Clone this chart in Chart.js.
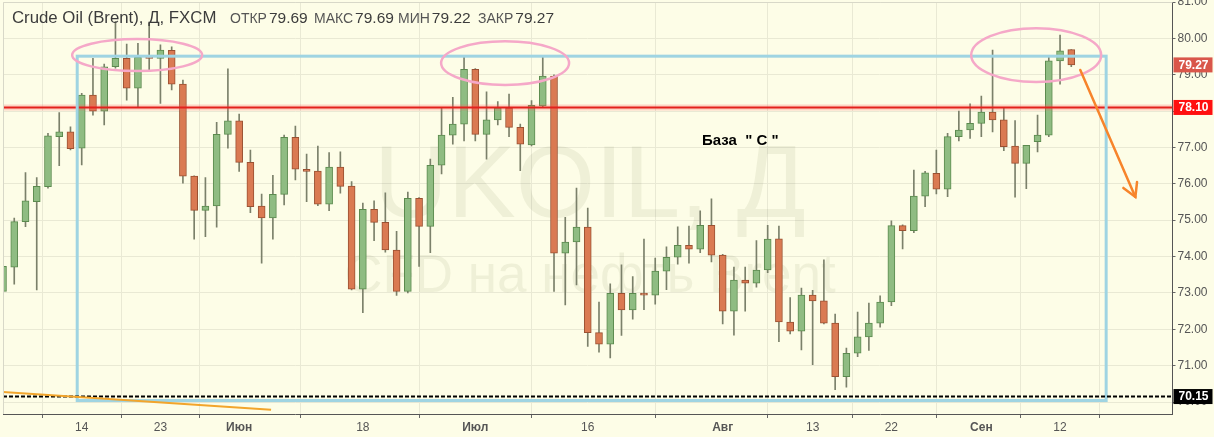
<!DOCTYPE html>
<html>
<head>
<meta charset="utf-8">
<script src="https://cdn.jsdelivr.net/npm/chart.js@4.4.0/dist/chart.umd.min.js"></script>
<style>
  html, body { margin: 0; padding: 0; background: #fdfde7; }
  #wrap { width: 1214px; height: 437px; }
</style>
</head>
<body>
<div id="wrap"><canvas id="chart" width="1214" height="437"></canvas></div>
<script>
// trading days (daily candles), last 9 are empty future slots
const dates = [
  '03.05','04.05','07.05','08.05','09.05','10.05','11.05','14.05','15.05','16.05','17.05','18.05','21.05','22.05','23.05','24.05','25.05','28.05','29.05','30.05','31.05',
  '01.06','04.06','05.06','06.06','07.06','08.06','11.06','12.06','13.06','14.06','15.06','18.06','19.06','20.06','21.06','22.06','25.06','26.06','27.06','28.06','29.06',
  '02.07','03.07','04.07','05.07','06.07','09.07','10.07','11.07','12.07','13.07','16.07','17.07','18.07','19.07','20.07','23.07','24.07','25.07','26.07','27.07','30.07','31.07',
  '01.08','02.08','03.08','06.08','07.08','08.08','09.08','10.08','13.08','14.08','15.08','16.08','17.08','20.08','21.08','22.08','23.08','24.08','27.08','28.08','29.08','30.08','31.08',
  '03.09','04.09','05.09','06.09','07.09','10.09','11.09','12.09','13.09',
  '14.09','17.09','18.09','19.09','20.09','21.09','24.09','25.09','26.09'
];

const opens = [
  73.04, 73.71, 74.96, 75.51, 75.92, 77.30, 77.43, 76.98, 78.44, 78.00, 79.22, 79.45, 78.63, 79.48, 79.45, 79.67, 78.74, 76.21, 75.27, 75.39, 77.36,
  77.73, 76.59, 75.39, 75.06, 75.71, 77.28, 76.40, 76.35, 75.44, 76.46, 75.94, 73.10, 75.30, 74.94, 74.18, 73.04, 75.60, 74.83, 76.51, 77.34, 77.64,
  79.15, 77.36, 77.76, 78.09, 77.55, 77.07, 78.14, 78.96, 74.09, 74.40, 74.81, 71.91, 71.59, 72.99, 72.53, 72.99, 72.94, 73.60, 73.98, 74.31, 74.20, 74.86,
  74.04, 72.50, 73.35, 73.27, 73.63, 74.49, 72.20, 71.95, 72.94, 72.78, 72.17, 70.70, 71.34, 71.79, 72.17, 72.75, 74.85, 74.71, 75.66, 76.29, 75.85, 77.30, 77.48,
  77.66, 77.97, 77.76, 77.04, 76.56, 77.16, 77.34, 79.38, 79.69
];
const highs = [
  73.80, 75.06, 76.31, 76.17, 77.39, 77.96, 77.57, 78.49, 79.45, 79.29, 80.46, 79.84, 79.86, 80.41, 79.82, 79.77, 78.85, 76.22, 76.17, 77.69, 79.16,
  77.92, 76.93, 75.72, 76.23, 77.34, 77.59, 76.82, 77.04, 76.86, 76.88, 76.06, 75.47, 75.53, 75.75, 74.69, 75.77, 75.62, 76.68, 78.09, 78.38, 79.48,
  79.17, 78.53, 78.26, 78.47, 77.64, 78.29, 79.50, 79.00, 75.08, 75.88, 75.33, 72.75, 73.25, 73.77, 73.45, 74.48, 73.96, 74.27, 74.82, 74.84, 75.26, 75.59,
  74.06, 73.71, 73.71, 74.44, 74.86, 74.84, 72.87, 73.13, 73.07, 73.91, 72.42, 71.48, 72.47, 72.72, 72.92, 74.98, 74.87, 76.38, 76.34, 76.93, 77.39, 78.00, 78.20,
  78.41, 79.68, 78.09, 77.74, 77.06, 77.89, 79.48, 80.09, 79.69
];
const lows = [
  72.95, 73.24, 74.82, 73.08, 75.88, 76.50, 76.93, 76.52, 77.89, 77.62, 79.18, 78.30, 78.12, 79.13, 78.21, 78.58, 76.02, 74.48, 74.55, 74.81, 76.98,
  76.34, 75.21, 73.82, 74.48, 75.42, 76.11, 75.51, 75.40, 75.26, 75.74, 73.08, 72.46, 74.44, 74.12, 72.93, 73.00, 73.73, 74.11, 76.27, 77.09, 77.18,
  77.18, 76.68, 77.62, 77.30, 76.36, 77.04, 78.10, 73.04, 72.67, 73.22, 71.53, 71.37, 71.21, 71.83, 72.28, 72.54, 72.69, 73.09, 73.79, 73.82, 74.11, 73.85,
  72.15, 71.84, 72.50, 73.16, 73.56, 71.66, 71.87, 71.43, 71.03, 72.15, 70.34, 70.41, 71.25, 71.42, 72.06, 72.65, 74.21, 74.66, 75.37, 75.72, 75.65, 77.18, 77.25,
  77.30, 77.43, 76.91, 75.63, 75.87, 76.88, 77.30, 78.74, 79.22
];
const closes = [
  73.73, 74.96, 75.53, 75.93, 77.32, 77.43, 76.97, 78.44, 78.00, 79.22, 79.45, 78.63, 79.48, 79.45, 79.68, 78.74, 76.21, 75.27, 75.39, 77.36, 77.73,
  76.59, 75.37, 75.06, 75.71, 77.28, 76.40, 76.34, 75.44, 76.46, 75.93, 73.10, 75.30, 74.94, 74.18, 73.04, 75.60, 74.83, 76.51, 77.34, 77.64, 79.15,
  77.36, 77.76, 78.09, 77.55, 77.09, 78.16, 78.96, 74.09, 74.40, 74.81, 71.91, 71.59, 72.99, 72.53, 72.99, 72.94, 73.60, 73.98, 74.31, 74.20, 74.86, 74.04,
  72.50, 73.35, 73.27, 73.63, 74.48, 72.20, 71.95, 72.94, 72.78, 72.17, 70.70, 71.34, 71.79, 72.17, 72.75, 74.85, 74.71, 75.66, 76.30, 75.85, 77.30, 77.48, 77.66,
  77.97, 77.76, 77.02, 76.56, 77.06, 77.34, 79.38, 79.66, 79.27
];

// x-axis labels
const tickDates = ['14.05', '23.05', '01.06', '18.06', '02.07', '16.07', '01.08', '13.08', '22.08', '03.09', '12.09'];
const tickTexts = ['14', '23', 'Июн', '18', 'Июл', '16', 'Авг', '13', '22', 'Сен', '12'];

// drawn levels
const resistance = 78.10;
const support = 70.15;

// hand drawings, in axis units (category index, price)
const baseBox = { x0: 6.6, x1: 98.1, y0: 79.51, y1: 70.04 };
const ellipses = [
  { x: 11.93, y: 79.54, rx: 5.78, ry: 0.44 },
  { x: 44.65, y: 79.32, rx: 5.69, ry: 0.60 },
  { x: 91.88, y: 79.54, rx: 5.78, ry: 0.74 }
];
const arrow = { x0: 95.8, y0: 79.13, x1: 100.7, y1: 75.64 };
const trendLine = { x0: -0.4, y0: 70.28, x1: 23.84, y1: 69.79 };

const FONT = '"Liberation Sans", Arial, sans-serif';
const UP = '#8fbc82', UP_LINE = '#5b8a4e';
const DOWN = '#da7a52', DOWN_LINE = '#9a5132';
const WICK = '#7b806a';

const bodies = opens.map((o, i) => [o, closes[i]]);
const wicks = lows.map((l, i) => [l, highs[i]]);
const isUp = i => closes[i] >= opens[i];

const overlay = {
  id: 'overlay',
  beforeDatasetsDraw(chart) {
    const ctx = chart.ctx, a = chart.chartArea;
    ctx.save();
    ctx.beginPath();
    ctx.rect(a.left, a.top, a.right - a.left, a.bottom - a.top);
    ctx.clip();
    ctx.fillStyle = 'rgba(70,80,30,0.075)';
    ctx.textAlign = 'center';
    ctx.textBaseline = 'alphabetic';
    ctx.font = '102px ' + FONT;
    ctx.fillText('UKOIL, Д', 590, 217);
    ctx.font = '53px ' + FONT;
    ctx.fillText('CFD на нефть Brent', 590, 292);
    ctx.restore();
  },
  afterDatasetsDraw(chart) {
    const ctx = chart.ctx, a = chart.chartArea;
    const X = v => chart.scales.x.getPixelForValue(v);
    const Y = v => chart.scales.y.getPixelForValue(v);
    ctx.save();
    ctx.beginPath();
    ctx.rect(a.left, a.top, a.right - a.left, a.bottom - a.top);
    ctx.clip();

    // resistance line
    let y = Y(resistance);
    ctx.strokeStyle = 'rgba(255,90,90,0.25)';
    ctx.lineWidth = 6;
    ctx.beginPath(); ctx.moveTo(a.left, y); ctx.lineTo(a.right, y); ctx.stroke();
    ctx.strokeStyle = '#e3211c';
    ctx.lineWidth = 2;
    ctx.beginPath(); ctx.moveTo(a.left, y); ctx.lineTo(a.right, y); ctx.stroke();

    // base rectangle
    ctx.strokeStyle = '#9fd4e2';
    ctx.lineWidth = 3;
    ctx.strokeRect(X(baseBox.x0), Y(baseBox.y0), X(baseBox.x1) - X(baseBox.x0), Y(baseBox.y1) - Y(baseBox.y0));

    // support dashed line
    y = Y(support);
    ctx.strokeStyle = '#000';
    ctx.lineWidth = 2;
    ctx.setLineDash([4, 2]);
    ctx.beginPath(); ctx.moveTo(a.left, y); ctx.lineTo(a.right, y); ctx.stroke();
    ctx.setLineDash([]);

    // bottom-left trend line
    ctx.strokeStyle = '#f2a52c';
    ctx.lineWidth = 2;
    ctx.beginPath(); ctx.moveTo(X(trendLine.x0), Y(trendLine.y0)); ctx.lineTo(X(trendLine.x1), Y(trendLine.y1)); ctx.stroke();

    // ellipses
    ctx.strokeStyle = '#f5a8c8';
    ctx.lineWidth = 2.5;
    ellipses.forEach(e => {
      const cx = X(e.x), cy = Y(e.y);
      const rx = X(e.x + e.rx) - cx, ry = cy - Y(e.y + e.ry);
      ctx.beginPath();
      ctx.ellipse(cx, cy, rx, ry, 0, 0, Math.PI * 2);
      ctx.stroke();
    });

    // arrow
    const x0 = X(arrow.x0), y0 = Y(arrow.y0), x1 = X(arrow.x1), y1 = Y(arrow.y1);
    ctx.strokeStyle = '#f7842b';
    ctx.lineWidth = 2.5;
    ctx.lineCap = 'round';
    ctx.beginPath(); ctx.moveTo(x0, y0); ctx.lineTo(x1, y1); ctx.stroke();
    const ang = Math.atan2(y0 - y1, x0 - x1);
    ctx.beginPath();
    ctx.moveTo(x1 + 15 * Math.cos(ang - 0.52), y1 + 15 * Math.sin(ang - 0.52));
    ctx.lineTo(x1, y1);
    ctx.lineTo(x1 + 15 * Math.cos(ang + 0.52), y1 + 15 * Math.sin(ang + 0.52));
    ctx.stroke();

    // label
    ctx.fillStyle = '#000';
    ctx.font = 'bold 15px ' + FONT;
    ctx.textAlign = 'left';
    ctx.textBaseline = 'alphabetic';
    ctx.fillText('База  " С "', 702, 145);
    ctx.restore();
  },
  afterDraw(chart) {
    const ctx = chart.ctx, a = chart.chartArea;
    const Y = v => chart.scales.y.getPixelForValue(v);
    const last = opens.length - 1;
    ctx.save();

    // light frame left/top
    ctx.strokeStyle = '#d8d8c8';
    ctx.lineWidth = 1;
    ctx.beginPath();
    ctx.moveTo(a.left + 0.5, a.bottom); ctx.lineTo(a.left + 0.5, a.top + 0.5); ctx.lineTo(a.right, a.top + 0.5);
    ctx.stroke();

    // price tags on the axis
    const tag = (v, bg) => {
      const y = Y(v);
      ctx.fillStyle = bg;
      ctx.fillRect(a.right + 1, y - 7.5, 39, 15);
      ctx.fillStyle = '#fff';
      ctx.font = 'bold 12px ' + FONT;
      ctx.textAlign = 'left';
      ctx.textBaseline = 'middle';
      ctx.fillText(v.toFixed(2), a.right + 6, y + 0.5);
    };
    tag(closes[last], '#d9564a');
    tag(resistance, '#ff1010');
    tag(support, '#000');

    // header
    ctx.textBaseline = 'alphabetic';
    ctx.textAlign = 'left';
    ctx.fillStyle = '#3c3c3c';
    ctx.font = '16.8px ' + FONT;
    ctx.fillText('Crude Oil (Brent), Д, FXCM', 12, 23);
    const parts = [['ОТКР', opens[last], 230], ['МАКС', highs[last], 314], ['МИН', lows[last], 398], ['ЗАКР', closes[last], 478]];
    parts.forEach(p => {
      ctx.font = '14px ' + FONT;
      ctx.fillStyle = '#555';
      ctx.fillText(p[0], p[2], 23);
      const w = ctx.measureText(p[0]).width;
      ctx.font = '15.5px ' + FONT;
      ctx.fillStyle = '#3c3c3c';
      ctx.fillText(p[1].toFixed(2), p[2] + w + 2, 23);
    });
    ctx.restore();
  }
};

new Chart(document.getElementById('chart'), {
  type: 'bar',
  data: {
    labels: dates,
    datasets: [
      {
        data: wicks,
        backgroundColor: WICK,
        barThickness: 1,
        grouped: false,
        order: 2
      },
      {
        data: bodies,
        backgroundColor: ctx => isUp(ctx.dataIndex) ? UP : DOWN,
        borderColor: ctx => isUp(ctx.dataIndex) ? UP_LINE : DOWN_LINE,
        borderWidth: 1,
        borderSkipped: false,
        barThickness: 7,
        minBarLength: 2,
        grouped: false,
        order: 1
      }
    ]
  },
  options: {
    responsive: false,
    animation: false,
    devicePixelRatio: 1,
    layout: { padding: { left: 3, top: 2, right: 0, bottom: 0 } },
    plugins: { legend: { display: false }, tooltip: { enabled: false } },
    scales: {
      x: {
        type: 'category',
        offset: false,
        grid: { color: '#e9e9d4', tickLength: 4, tickColor: '#666' },
        border: { color: '#555' },
        ticks: {
          autoSkip: false,
          maxRotation: 0,
          padding: 2,
          color: '#555',
          font: ctx => ({ size: 12, family: FONT, weight: /\d/.test(ctx.tick && ctx.tick.label) ? 'normal' : 'bold' }),
          callback(val) {
            const k = tickDates.indexOf(this.getLabelForValue(val));
            return k >= 0 ? tickTexts[k] : null;
          }
        },
        afterFit(s) { s.height = 23; s.paddingLeft = 0; s.paddingRight = 0; }
      },
      y: {
        position: 'right',
        min: 69.67,
        max: 81.0,
        grid: { color: '#e9e9d4', tickLength: 3, tickColor: '#666' },
        border: { color: '#555' },
        ticks: {
          stepSize: 1,
          includeBounds: false,
          padding: 2,
          color: '#555',
          font: { size: 12, family: FONT },
          callback: v => v.toFixed(2)
        },
        afterFit(s) { s.width = 41.5; s.paddingTop = 0; s.paddingBottom = 0; }
      }
    }
  },
  plugins: [overlay]
});
</script>
</body>
</html>
